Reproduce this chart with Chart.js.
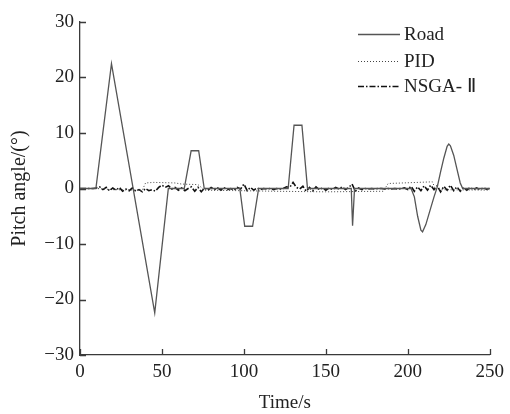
<!DOCTYPE html>
<html>
<head>
<meta charset="utf-8">
<script src="https://cdn.jsdelivr.net/npm/chart.js@4/dist/chart.umd.min.js"></script>
<style>
html, body { margin: 0; padding: 0; background: #fff; }
#wrap { width: 510px; height: 414px; }
</style>
</head>
<body>
<div id="wrap"><canvas id="chart" width="510" height="414"></canvas></div>
<script>
// --- DATA ---
const roadT = [0, 9.7, 19.2, 45.6, 53.9, 63.6, 67.8, 72.4, 75.8, 97.5, 100.5, 105.3, 109, 127, 130.6, 135.4, 138.8,
  165.5, 166.3, 167.5, 202, 204, 206, 208, 209, 211, 214, 216, 218, 220, 222, 224, 225, 226, 228, 230, 232, 233.5, 250];
const roadV = [0, 0, 22.5, -22.4, 0, 0, 6.8, 6.8, 0, 0, -6.8, -6.8, 0, 0, 11.4, 11.4, 0,
  0, -6.7, 0, 0, -1.5, -5, -7.5, -7.8, -6.5, -3.5, -1.5, 0.3, 3, 5.5, 7.6, 8, 7.7, 6, 3.5, 1, 0, 0];

const pidT = [0, 10, 20, 38, 40, 45, 58, 62, 72, 76, 100, 120, 150, 185, 188, 215, 217, 250];
const pidV = [0, 0, -0.2, -0.3, 1.0, 1.1, 1.0, 0.8, 0.7, -0.3, -0.4, -0.5, -0.6, -0.5, 0.9, 1.2, -0.2, -0.3];

// NSGA-II sampled every 2 s from 0 to 250
const nsgaStep = 2;
const nsgaV = [
  0, 0, 0, 0, 0, 0.1,
  0.3, -0.2, 0.2, -0.4, 0.1, -0.3, 0.2, -0.5, -0.1, -0.4,
  0.1, -0.5, -0.2, -0.6, 0.0, -0.4, -0.2, -0.5, 0.2, 0.6,
  0.2, 0.5, -0.1, 0.2, -0.3, 0.1, -0.4, 0.0, 0.3, -0.5,
  0.2, -0.6, 0.1, -0.3, 0.2, -0.2, 0.1, -0.3, 0.1, -0.2,
  0.0, -0.3, 0.2, -0.1, 0.8, -0.4, 0.2, -0.3, 0.1, -0.2,
  0.0, -0.1, 0.0, -0.2, 0.0, -0.1, 0.0, 0.3, 0.2, 1.1,
  0.2, -0.1, 0.4, -0.5, 0.2, -0.4, 0.3, -0.2, 0.1, -0.3,
  0.1, -0.2, 0.2, -0.1, 0.3, -0.2, 0.2, 0.8, -0.5, 0.1,
  -0.2, 0.0, -0.1, 0.0, -0.1, 0.0, 0.0, -0.1, 0.0, -0.1,
  0.0, -0.1, 0.0, 0.1, -0.2, 0.4, -0.5, 0.3, -0.4, 0.5,
  -0.3, 0.6, -0.2, 0.5, -0.6, 0.4, -0.3, 0.6, -0.4, 0.3,
  -0.5, 0.2, -0.3, 0.2, -0.2, 0.1, -0.2, 0.1, -0.1, 0.0
];

const seriesNames = ['Road', 'PID', 'NSGA- Ⅱ'];
const xTitle = 'Time/s';
const yTitle = 'Pitch angle/(°)';

// --- STYLE ---
const FONT = '"Liberation Serif", "Times New Roman", serif';
const AXIS_COLOR = '#3a3a3a';
const TEXT_COLOR = '#222';

const toPoints = (ts, vs) => ts.map((t, i) => ({ x: t, y: vs[i] }));
const nsgaPoints = nsgaV.map((v, i) => ({ x: i * nsgaStep, y: v }));

const styles = [
  { color: '#555', width: 1.3, dash: [] },
  { color: '#444', width: 1, dash: [1, 2] },
  { color: '#111', width: 1.6, dash: [6, 2, 1.5, 2] }
];

// inward tick marks
const innerTicks = {
  id: 'innerTicks',
  afterDraw(chart) {
    const ctx = chart.ctx;
    const area = chart.chartArea;
    const xs = chart.scales.x, ys = chart.scales.y;
    ctx.save();
    ctx.strokeStyle = AXIS_COLOR;
    ctx.lineWidth = 1.3;
    ctx.beginPath();
    xs.ticks.forEach((t, i) => {
      const px = Math.round(xs.getPixelForTick(i)) + 0.5;
      ctx.moveTo(px, area.bottom);
      ctx.lineTo(px, area.bottom - 6);
    });
    ys.ticks.forEach((t, i) => {
      const py = Math.round(ys.getPixelForTick(i)) + 0.5;
      ctx.moveTo(area.left, py);
      ctx.lineTo(area.left + 6, py);
    });
    ctx.stroke();
    ctx.restore();
  }
};

// legend in top right corner of the plot
const cornerLegend = {
  id: 'cornerLegend',
  afterDraw(chart) {
    const ctx = chart.ctx;
    ctx.save();
    ctx.font = '19px ' + FONT;
    ctx.fillStyle = TEXT_COLOR;
    ctx.textBaseline = 'middle';
    const rows = [34, 61, 86];
    seriesNames.forEach((name, i) => {
      const s = styles[i];
      ctx.strokeStyle = s.color;
      ctx.lineWidth = s.width;
      ctx.setLineDash(s.dash);
      ctx.beginPath();
      ctx.moveTo(358, rows[i] + 0.5);
      ctx.lineTo(400, rows[i] + 0.5);
      ctx.stroke();
      ctx.setLineDash([]);
      ctx.fillText(name, 404, rows[i] + 1);
    });
    ctx.restore();
  }
};

const datasets = [
  toPoints(roadT, roadV),
  toPoints(pidT, pidV),
  nsgaPoints
].map((pts, i) => ({
  label: seriesNames[i],
  data: pts,
  borderColor: styles[i].color,
  borderWidth: styles[i].width,
  borderDash: styles[i].dash,
  pointRadius: 0,
  tension: 0,
  fill: false
}));

new Chart(document.getElementById('chart'), {
  type: 'line',
  data: { datasets: datasets },
  options: {
    responsive: false,
    animation: false,
    layout: { padding: { top: 22, right: 17, left: 0, bottom: 0 } },
    plugins: { legend: { display: false }, tooltip: { enabled: false } },
    scales: {
      x: {
        type: 'linear',
        min: 0, max: 250,
        ticks: { stepSize: 50, color: TEXT_COLOR, font: { family: FONT, size: 19 }, padding: 6, maxRotation: 0 },
        grid: { display: true, drawOnChartArea: false, drawTicks: false },
        border: { color: AXIS_COLOR, width: 1.3 },
        title: { display: true, text: xTitle, color: TEXT_COLOR, font: { family: FONT, size: 19 }, padding: 0 },
        afterFit: (s) => { s.height = 59; }
      },
      y: {
        min: -30, max: 30,
        ticks: { stepSize: 10, color: TEXT_COLOR, font: { family: FONT, size: 19 }, padding: 6,
          callback: (v) => v < 0 ? '\u2212' + Math.abs(v) : String(v) },
        grid: { display: true, drawOnChartArea: false, drawTicks: false },
        border: { color: AXIS_COLOR, width: 1.3 },
        title: { display: true, text: yTitle, color: TEXT_COLOR, font: { family: FONT, size: 20 }, padding: { top: 8, bottom: 0 } },
        afterFit: (s) => { s.width = 80; }
      }
    }
  },
  plugins: [innerTicks, cornerLegend]
});
</script>
</body>
</html>
